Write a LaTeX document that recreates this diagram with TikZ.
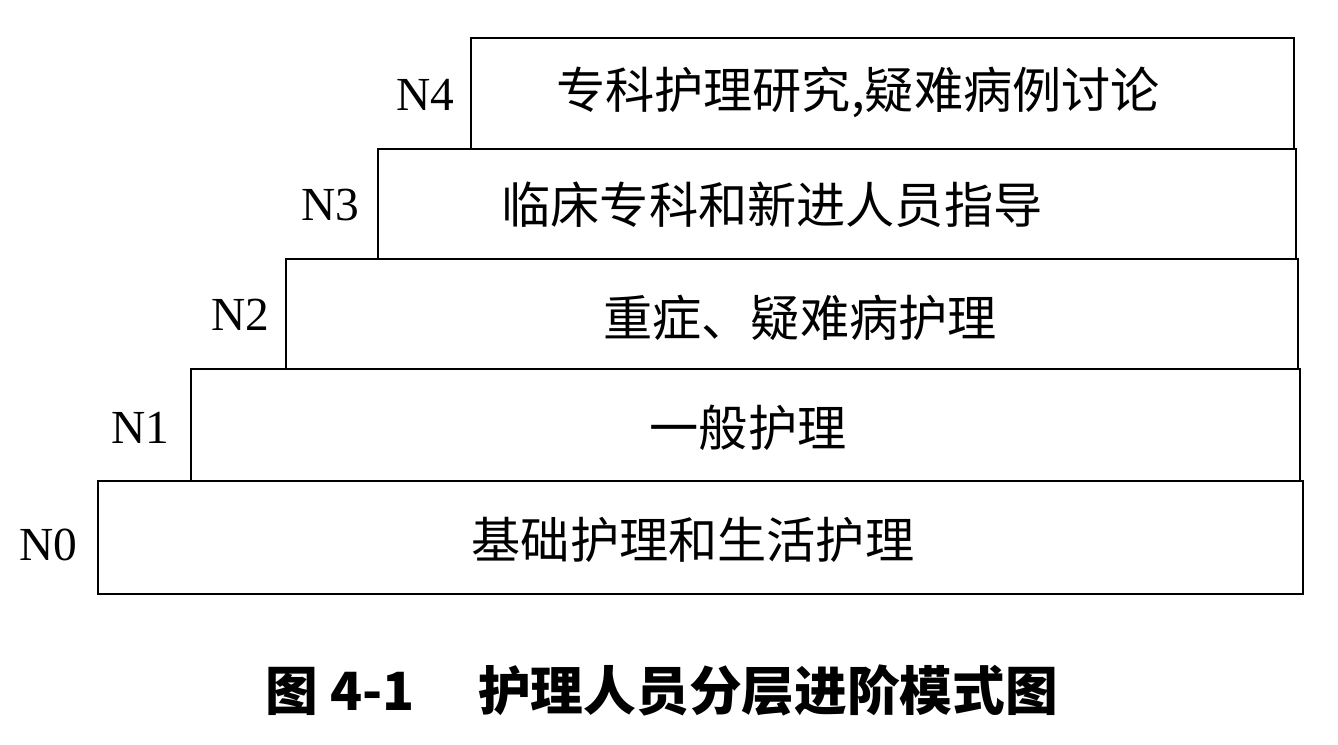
\documentclass[tikz,border=0pt]{standalone}
\usepackage{fontspec}
\setmainfont{Liberation Serif}
\newfontfamily\cjk{Noto Sans CJK SC}
\begin{document}
\begin{tikzpicture}[x=0.02cm,y=-0.02cm,
  stepbox/.style={draw,line width=1.4pt},
  lvl/.style={font=\fontsize{27}{30}\selectfont},
  boxtxt/.style={font=\cjk\fontsize{28}{32}\selectfont},
]
\useasboundingbox (0,0) rectangle (1338,744);
\node[stepbox,minimum width=823*0.02cm,minimum height=111*0.02cm,anchor=north west] (b4) at (470,37) {};
\node[stepbox,minimum width=918*0.02cm,minimum height=110*0.02cm,anchor=north west] (b3) at (377,148) {};
\node[stepbox,minimum width=1012*0.02cm,minimum height=110*0.02cm,anchor=north west] (b2) at (285,258) {};
\node[stepbox,minimum width=1109*0.02cm,minimum height=112*0.02cm,anchor=north west] (b1) at (190,368) {};
\node[stepbox,minimum width=1205*0.02cm,minimum height=113*0.02cm,anchor=north west] (b0) at (97,480) {};
\node[boxtxt] (t4) at (858,92) {专科护理研究,疑难病例讨论};
\node[boxtxt] (t3) at (772,205) {临床专科和新进人员指导};
\node[boxtxt] (t2) at (800,318) {重症、疑难病护理};
\node[boxtxt] (t1) at (748,428) {一般护理};
\node[boxtxt] (t0) at (693,540) {基础护理和生活护理};
\node[lvl] (l4) at (425,95) {N4};
\node[lvl] (l3) at (330,205) {N3};
\node[lvl] (l2) at (240,315) {N2};
\node[lvl] (l1) at (140,428) {N1};
\node[lvl] (l0) at (48,545) {N0};
\node[font=\cjk\bfseries\fontsize{30}{34}\selectfont] (cap) at (662,690) {图 4-1\hspace{1.2em}护理人员分层进阶模式图};
\end{tikzpicture}
\end{document}
